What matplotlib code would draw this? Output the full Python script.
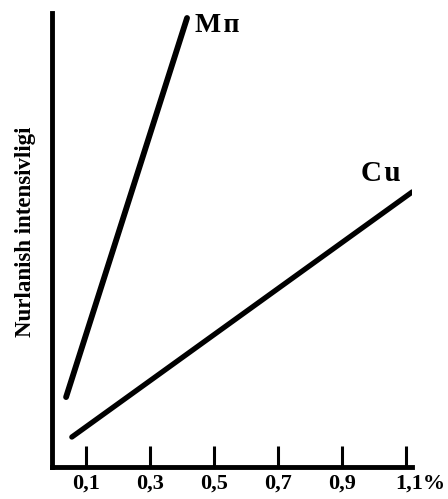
import matplotlib.pyplot as plt
import matplotlib.transforms as mtransforms

# concentration (%) and relative radiation intensity
mn_x = [0.038, 0.416]
mn_y = [0.154, 0.989]
cu_x = [0.056, 1.12]
cu_y = [0.066, 0.606]

ticks = [0.1, 0.3, 0.5, 0.7, 0.9, 1.1]
tick_labels = ['0,1', '0,3', '0,5', '0,7', '0,9', '1,1%']

plt.rcParams['font.family'] = ['Liberation Serif', 'DejaVu Serif']

fig = plt.figure(figsize=(4.48, 4.99), dpi=100)
ax = fig.add_axes([52/448, 32/499, 360/448, 454/499])

ax.plot(mn_x, mn_y, color='black', lw=4.2, solid_capstyle='round')
ax.plot(cu_x, cu_y, color='black', lw=3.8, solid_capstyle='round')

ax.text(0.44, 0.972, 'M\u200aп', fontsize=20, fontweight='bold', ha='left', va='center')
ax.text(1.02, 0.647, 'C\u200au', fontsize=21, fontweight='bold', ha='center', va='center')

ax.set_xlim(-0.006, 1.119)
ax.set_ylim(0, 1)

ax.set_xticks(ticks)
ax.set_xticklabels(tick_labels, fontsize=16, fontweight='bold')
ax.set_yticks([])
ax.tick_params(axis='x', direction='in', length=15, width=2.2, pad=5)

# shift the last label so the number sits under its tick
last = ax.get_xticklabels()[-1]
last.set_transform(last.get_transform() + mtransforms.ScaledTranslation(14/100, 0, fig.dpi_scale_trans))

for side in ['top', 'right']:
    ax.spines[side].set_visible(False)
for side in ['left', 'bottom']:
    ax.spines[side].set_linewidth(3.5)

fig.text(25/448, 1 - 232/499, 'Nurlanish intensivligi', rotation=90,
         fontsize=16.5, fontweight='bold', ha='center', va='center')

fig.savefig('out.png', dpi=100)
